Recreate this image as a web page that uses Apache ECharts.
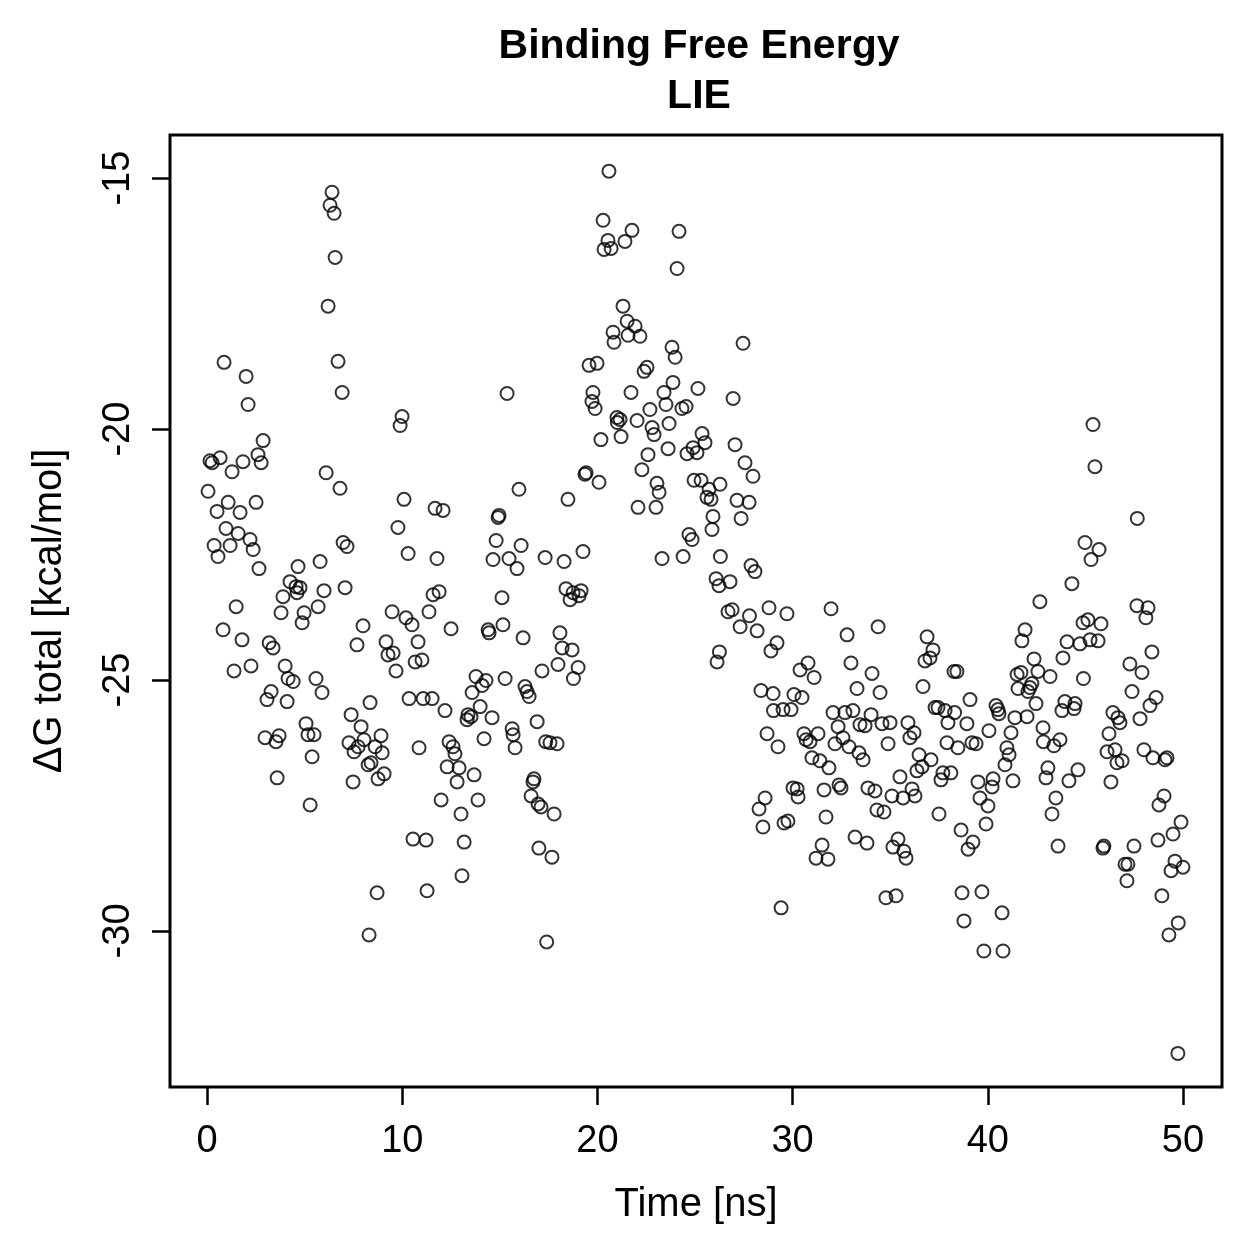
<!DOCTYPE html>
<html>
<head>
<meta charset="utf-8">
<title>Binding Free Energy LIE</title>
<script src="https://cdn.jsdelivr.net/npm/echarts@6/dist/echarts.min.js"></script>
<style>
  html, body { margin: 0; padding: 0; background: #fff; }
  #main { width: 1259px; height: 1259px; }
</style>
</head>
<body>
<div id="main"></div>
<script>
// tick positions
var xTicks = [0, 10, 20, 30, 40, 50]
var yTicks = [-30, -25, -20, -15]

// [time (ns), dG total (kcal/mol)]
var samples = [
  [0.05, -21.24], [0.15, -20.63], [0.26, -20.67], [0.36, -22.32], [0.51, -21.64], [0.56, -22.54],
  [0.67, -20.57], [0.82, -24.00], [0.87, -18.67], [0.97, -21.98], [1.08, -21.46], [1.18, -22.32],
  [1.28, -20.85], [1.38, -24.82], [1.49, -23.54], [1.59, -22.08], [1.69, -21.66], [1.79, -24.20],
  [1.84, -20.65], [2.00, -18.95], [2.10, -19.51], [2.20, -22.20], [2.25, -24.72], [2.36, -22.40],
  [2.51, -21.46], [2.61, -20.51], [2.66, -22.78], [2.77, -20.67], [2.87, -20.23], [2.97, -26.15],
  [3.07, -25.39], [3.18, -24.26], [3.28, -25.23], [3.38, -24.36], [3.53, -26.23], [3.59, -26.95],
  [3.69, -26.11], [3.79, -23.66], [3.89, -23.34], [4.00, -24.72], [4.10, -25.43], [4.15, -24.97],
  [4.25, -23.04], [4.41, -25.03], [4.56, -23.14], [4.61, -23.26], [4.66, -22.74], [4.76, -23.16],
  [4.87, -23.86], [4.97, -23.66], [5.07, -25.87], [5.17, -26.09], [5.28, -27.49], [5.38, -26.53],
  [5.48, -26.09], [5.58, -24.97], [5.69, -23.54], [5.79, -22.64], [5.89, -25.25], [5.99, -23.22],
  [6.10, -20.87], [6.20, -17.55], [6.30, -15.54], [6.40, -15.28], [6.51, -15.70], [6.56, -16.58],
  [6.71, -18.65], [6.81, -21.18], [6.92, -19.27], [6.97, -22.26], [7.07, -23.16], [7.17, -22.34],
  [7.27, -26.25], [7.38, -25.69], [7.48, -27.03], [7.53, -26.43], [7.68, -24.30], [7.74, -26.33],
  [7.89, -25.93], [7.99, -23.92], [8.04, -26.19], [8.25, -26.69], [8.30, -30.08], [8.35, -25.45],
  [8.40, -26.65], [8.61, -26.33], [8.71, -29.24], [8.76, -26.97], [8.91, -26.11], [8.97, -26.45],
  [9.07, -26.87], [9.17, -24.24], [9.27, -24.50], [9.48, -23.64], [9.53, -24.46], [9.68, -24.82],
  [9.78, -21.96], [9.89, -19.93], [9.99, -19.75], [10.09, -21.40], [10.19, -23.76], [10.30, -22.48],
  [10.35, -25.37], [10.50, -23.90], [10.55, -28.17], [10.66, -24.64], [10.81, -24.24], [10.86, -26.35],
  [11.01, -24.60], [11.07, -25.37], [11.22, -28.19], [11.27, -29.20], [11.37, -23.64], [11.53, -25.37],
  [11.58, -23.30], [11.68, -21.58], [11.78, -22.58], [11.89, -23.24], [11.99, -27.39], [12.09, -21.62],
  [12.19, -25.61], [12.30, -26.73], [12.40, -26.23], [12.50, -23.98], [12.60, -26.33], [12.70, -26.47],
  [12.81, -27.03], [12.91, -26.75], [13.01, -27.67], [13.06, -28.90], [13.17, -28.23], [13.32, -25.79],
  [13.37, -25.69], [13.52, -25.73], [13.58, -25.25], [13.68, -26.89], [13.78, -24.93], [13.88, -27.39],
  [13.99, -25.53], [14.09, -25.11], [14.19, -26.17], [14.29, -25.01], [14.40, -24.00], [14.45, -24.06],
  [14.60, -25.75], [14.65, -22.60], [14.81, -22.22], [14.91, -21.76], [14.96, -21.72], [15.11, -23.36],
  [15.16, -23.90], [15.27, -24.97], [15.37, -19.29], [15.47, -22.58], [15.63, -25.97], [15.68, -26.09],
  [15.78, -26.35], [15.88, -22.78], [15.98, -21.20], [16.09, -22.32], [16.19, -24.16], [16.29, -25.13],
  [16.39, -25.23], [16.50, -25.33], [16.60, -27.31], [16.70, -27.03], [16.75, -26.97], [16.91, -25.83],
  [16.96, -27.47], [17.00, -28.35], [17.11, -27.53], [17.16, -24.82], [17.32, -22.56], [17.35, -26.23],
  [17.40, -30.22], [17.57, -26.25], [17.67, -28.53], [17.78, -27.67], [17.93, -26.27], [17.98, -24.69],
  [18.08, -24.06], [18.19, -24.36], [18.29, -22.64], [18.39, -23.18], [18.49, -21.40], [18.60, -23.40],
  [18.70, -24.40], [18.75, -23.26], [18.77, -24.97], [19.01, -24.75], [19.06, -23.32], [19.16, -23.22],
  [19.26, -22.44], [19.36, -20.90], [19.42, -20.87], [19.57, -18.73], [19.72, -19.45], [19.77, -19.27],
  [19.88, -19.59], [19.98, -18.69], [20.08, -21.06], [20.18, -20.21], [20.29, -15.84], [20.34, -16.42],
  [20.54, -16.24], [20.59, -14.86], [20.70, -16.40], [20.80, -18.07], [20.85, -18.27], [21.00, -19.77],
  [21.02, -19.87], [21.16, -19.81], [21.21, -20.15], [21.31, -17.55], [21.41, -16.26], [21.52, -17.85],
  [21.57, -18.13], [21.72, -19.27], [21.77, -16.04], [21.93, -17.95], [22.03, -19.83], [22.08, -21.56],
  [22.18, -18.15], [22.28, -20.81], [22.39, -18.85], [22.54, -18.77], [22.59, -20.51], [22.69, -19.61],
  [22.80, -19.97], [22.90, -20.11], [23.00, -21.56], [23.05, -21.08], [23.16, -21.26], [23.31, -22.58],
  [23.41, -19.27], [23.51, -19.51], [23.62, -20.39], [23.67, -19.89], [23.82, -18.37], [23.87, -19.07],
  [23.98, -18.57], [24.08, -16.80], [24.18, -16.06], [24.33, -19.59], [24.39, -22.54], [24.54, -19.55],
  [24.59, -20.49], [24.69, -22.10], [24.85, -22.20], [24.90, -20.37], [24.95, -21.02], [25.10, -20.47],
  [25.15, -19.19], [25.31, -21.02], [25.36, -20.09], [25.51, -20.27], [25.61, -21.36], [25.72, -21.20],
  [25.82, -21.40], [25.87, -22.00], [25.92, -21.74], [26.08, -22.98], [26.13, -24.64], [26.23, -23.12],
  [26.25, -24.44], [26.28, -21.10], [26.30, -22.54], [26.69, -23.64], [26.79, -23.04], [26.90, -23.60],
  [26.95, -19.39], [27.05, -20.31], [27.15, -21.42], [27.31, -23.94], [27.36, -21.78], [27.46, -18.29],
  [27.56, -20.67], [27.77, -21.46], [27.79, -23.72], [27.87, -22.72], [27.97, -20.94], [28.07, -22.84],
  [28.18, -24.02], [28.28, -27.57], [28.38, -25.21], [28.48, -27.93], [28.59, -27.35], [28.69, -26.07],
  [28.79, -23.56], [28.89, -24.42], [29.00, -25.27], [29.02, -25.61], [29.20, -24.26], [29.25, -26.33],
  [29.41, -29.54], [29.51, -25.59], [29.56, -27.85], [29.71, -23.68], [29.76, -27.81], [29.92, -25.59],
  [30.02, -27.15], [30.07, -25.29], [30.23, -27.17], [30.28, -27.33], [30.38, -24.80], [30.48, -25.35],
  [30.58, -26.07], [30.69, -26.19], [30.79, -24.66], [30.89, -26.23], [30.99, -26.55], [31.10, -24.95],
  [31.20, -28.55], [31.30, -26.07], [31.40, -26.61], [31.51, -28.29], [31.61, -27.19], [31.71, -27.73],
  [31.81, -28.57], [31.86, -26.75], [31.97, -23.58], [32.07, -25.65], [32.17, -26.27], [32.33, -25.93],
  [32.38, -27.09], [32.48, -27.15], [32.58, -26.15], [32.68, -25.65], [32.79, -24.10], [32.89, -26.33],
  [32.99, -24.66], [33.09, -25.61], [33.20, -28.13], [33.30, -25.17], [33.40, -26.45], [33.45, -25.89],
  [33.61, -26.59], [33.71, -25.91], [33.81, -28.25], [33.86, -27.15], [34.02, -25.69], [34.07, -24.87],
  [34.22, -27.21], [34.32, -27.59], [34.38, -23.94], [34.48, -25.25], [34.58, -25.87], [34.68, -27.63],
  [34.78, -29.34], [34.89, -26.27], [34.99, -25.85], [35.09, -27.31], [35.14, -28.33], [35.30, -29.30],
  [35.40, -28.17], [35.50, -26.93], [35.66, -27.35], [35.70, -28.41], [35.81, -28.55], [35.91, -25.85],
  [36.01, -26.15], [36.12, -27.17], [36.22, -26.05], [36.27, -27.31], [36.37, -26.81], [36.48, -26.49],
  [36.63, -26.73], [36.68, -25.13], [36.78, -24.62], [36.89, -24.14], [37.04, -24.56], [37.09, -26.59],
  [37.19, -24.40], [37.30, -25.55], [37.45, -25.55], [37.50, -27.67], [37.60, -26.99], [37.70, -26.85],
  [37.81, -25.61], [37.91, -26.25], [37.96, -25.85], [38.11, -26.85], [38.27, -24.83], [38.30, -25.65],
  [38.42, -24.83], [38.47, -26.35], [38.63, -27.99], [38.68, -29.24], [38.78, -29.80], [38.93, -25.87],
  [38.99, -28.37], [39.09, -25.39], [39.19, -26.25], [39.24, -28.23], [39.40, -26.27], [39.50, -27.03],
  [39.60, -27.35], [39.70, -29.22], [39.80, -30.40], [39.91, -27.87], [40.01, -27.51], [40.06, -26.01],
  [40.22, -27.13], [40.27, -26.97], [40.42, -25.51], [40.52, -25.59], [40.57, -25.67], [40.73, -29.64],
  [40.78, -30.40], [40.88, -26.69], [40.98, -26.35], [41.09, -26.49], [41.19, -26.05], [41.29, -27.01],
  [41.39, -25.75], [41.50, -24.89], [41.55, -25.17], [41.70, -24.85], [41.75, -24.22], [41.91, -24.00],
  [42.01, -25.73], [42.06, -25.23], [42.16, -25.15], [42.26, -25.07], [42.37, -24.58], [42.47, -25.47],
  [42.57, -24.83], [42.67, -23.44], [42.83, -25.95], [42.85, -26.23], [42.98, -26.95], [43.08, -26.75],
  [43.19, -24.93], [43.29, -27.67], [43.39, -26.31], [43.49, -27.35], [43.60, -28.31], [43.70, -26.19],
  [43.80, -25.61], [43.85, -24.56], [43.95, -25.43], [44.06, -24.24], [44.16, -27.01], [44.31, -23.08],
  [44.42, -25.57], [44.47, -25.47], [44.62, -26.79], [44.72, -24.28], [44.88, -23.86], [44.90, -24.97],
  [44.98, -22.26], [45.13, -23.80], [45.24, -24.20], [45.29, -22.60], [45.39, -19.91], [45.49, -20.75],
  [45.65, -24.22], [45.70, -22.40], [45.80, -23.88], [45.90, -28.35], [45.95, -28.31], [46.11, -26.43],
  [46.21, -26.07], [46.31, -27.03], [46.41, -25.65], [46.52, -26.39], [46.62, -26.65], [46.67, -25.75],
  [46.77, -25.85], [46.88, -26.61], [47.03, -28.67], [47.13, -29.00], [47.18, -28.67], [47.28, -24.68],
  [47.39, -25.23], [47.49, -28.31], [47.64, -23.52], [47.66, -21.78], [47.80, -25.77], [47.90, -24.85],
  [48.00, -26.39], [48.10, -23.76], [48.21, -23.56], [48.31, -25.51], [48.41, -24.44], [48.46, -26.55],
  [48.62, -25.35], [48.72, -28.19], [48.77, -27.49], [48.92, -29.30], [49.03, -27.31], [49.08, -26.59],
  [49.18, -26.55], [49.28, -30.08], [49.39, -28.80], [49.49, -28.07], [49.59, -28.61], [49.74, -32.44],
  [49.76, -29.84], [49.90, -27.83], [50.00, -28.73]
]

var font = 'Liberation Sans, Arial, Helvetica, sans-serif'

var chart = echarts.init(document.getElementById('main'))

chart.setOption({
  animation: false,
  backgroundColor: '#fff',
  title: {
    text: 'Binding Free Energy\nLIE',
    left: 694,
    top: 17,
    textAlign: 'center',
    textStyle: {
      fontFamily: font,
      fontSize: 41,
      fontWeight: 'bold',
      lineHeight: 50,
      color: '#000'
    }
  },
  grid: {
    left: 170,
    top: 135,
    width: 1052,
    height: 952,
    show: true,
    borderColor: '#000',
    borderWidth: 3,
    backgroundColor: 'transparent'
  },
  xAxis: {
    type: 'value',
    min: -1.9,
    max: 52.0,
    name: 'Time [ns]',
    nameLocation: 'middle',
    nameGap: 98,
    nameTextStyle: { fontFamily: font, fontSize: 40, color: '#000' },
    axisLine: { show: false, onZero: false },
    splitLine: { show: false },
    axisTick: {
      show: true,
      customValues: xTicks,
      length: 18,
      lineStyle: { color: '#000', width: 2.5 }
    },
    axisLabel: {
      customValues: xTicks,
      fontFamily: font,
      fontSize: 38,
      color: '#000',
      margin: 36
    }
  },
  yAxis: {
    type: 'value',
    min: -33.11,
    max: -14.14,
    name: 'ΔG total [kcal/mol]',
    nameLocation: 'middle',
    nameGap: 100,
    nameRotate: 90,
    nameTextStyle: { fontFamily: font, fontSize: 40, color: '#000' },
    axisLine: { show: false, onZero: false },
    splitLine: { show: false },
    axisTick: {
      show: true,
      customValues: yTicks,
      length: 18,
      lineStyle: { color: '#000', width: 2.5 }
    },
    axisLabel: {
      customValues: yTicks,
      rotate: 90,
      fontFamily: font,
      fontSize: 38,
      color: '#000',
      margin: 32
    }
  },
  series: [{
    type: 'scatter',
    data: samples,
    symbol: 'circle',
    symbolSize: 13,
    itemStyle: {
      color: 'rgba(0,0,0,0)',
      borderColor: '#000',
      borderWidth: 2
    }
  }]
})
</script>
</body>
</html>
